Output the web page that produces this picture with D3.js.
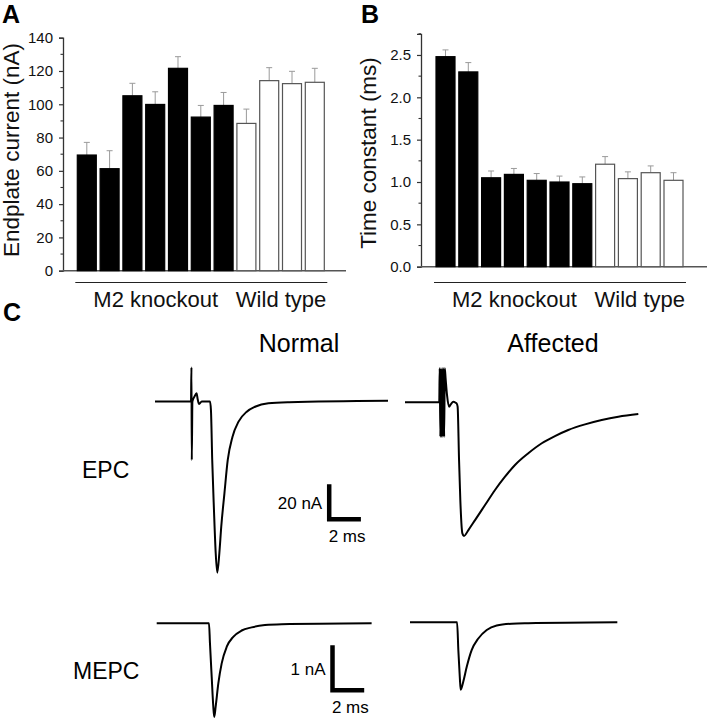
<!DOCTYPE html>
<html>
<head>
<meta charset="utf-8">
<script src="https://cdn.jsdelivr.net/npm/d3@7"></script>
<style>
  html, body { margin: 0; padding: 0; background: #fff; }
  svg { display: block; font-family: "Liberation Sans", Arial, sans-serif; }
</style>
</head>
<body>
<svg id="fig" width="708" height="719"></svg>
<script>
// ---------------- DATA ----------------
const categories = ["KO1","KO2","KO3","KO4","KO5","KO6","KO7","WT1","WT2","WT3","WT4"];
const genotype   = ["M2 knockout","M2 knockout","M2 knockout","M2 knockout","M2 knockout","M2 knockout","M2 knockout","Wild type","Wild type","Wild type","Wild type"];
const groupLabels = ["M2 knockout", "Wild type"];

// Panel A: endplate current (nA), mean and SEM
const currentMean = [69.5, 61.3, 105.1, 99.9, 121.6, 92.3, 99.3, 88.5, 114.2, 112.4, 113.2];
const currentErr  = [7.6, 10.8, 7.5, 7.6, 7.0, 7.0, 7.8, 8.6, 7.8, 7.4, 8.4];
const currentTicks = [0, 20, 40, 60, 80, 100, 120, 140];

// Panel B: time constant (ms), mean and SEM
const tauMean = [2.48, 2.30, 1.05, 1.09, 1.02, 1.00, 0.98, 1.21, 1.04, 1.11, 1.02];
const tauErr  = [0.08, 0.11, 0.08, 0.07, 0.08, 0.07, 0.08, 0.09, 0.08, 0.08, 0.09];
const tauTicks = [0.0, 0.5, 1.0, 1.5, 2.0, 2.5];

// Panel C traces: [time (ms), current (nA)]
const epcNormal = [
  [0,0],[2.27,0],[2.30,19.5],[2.32,-33.4],[2.36,0],[2.50,3.0],[2.62,4.7],[2.70,1.0],[2.78,-1.4],
  [2.95,0],[3.47,0],[3.53,-4.9],[3.61,-33.4],[3.72,-62],[3.83,-86.6],[3.93,-97.8],
  [4.06,-86.6],[4.18,-71.5],[4.38,-52.5],[4.59,-33.4],[4.89,-20.1],[5.27,-11.5],
  [5.79,-5.8],[6.31,-3.0],[7.15,-1.0],[8.46,-0.4],[14.7,0.4]
];
const epcAffected = [
  [0,0],[2.16,0],[2.19,19.4],[2.23,-19.7],[2.27,19.4],[2.31,-19.7],[2.35,19.4],[2.39,-19.7],
  [2.43,19.4],[2.47,-19.7],[2.51,19.4],[2.56,13.9],[2.65,4.2],[2.78,-2.5],[2.90,-1.0],
  [3.05,0.3],[3.20,-0.3],[3.26,-0.7],[3.32,-2.5],[3.41,-33],[3.49,-55.8],[3.62,-74.9],[3.72,-76.4],
  [4.00,-73],[4.42,-67.3],[5.05,-58.7],[5.68,-50.1],[6.31,-42.5],[6.94,-35.8],[7.78,-29.1],
  [8.63,-23.4],[9.46,-19.3],[10.3,-15.8],[11.36,-12.6],[12.41,-10.1],[13.46,-8.2],[14.72,-6.7]
];
const mepcNormal = [
  [0,0],[3.30,0],[3.36,-0.44],[3.47,-1.19],[3.57,-1.85],[3.63,-2.08],[3.72,-1.85],[3.89,-1.33],
  [4.10,-0.89],[4.42,-0.52],[4.83,-0.30],[5.36,-0.16],[5.99,-0.09],[6.83,-0.04],[7.89,-0.02],[13.56,0]
];
const mepcAffected = [
  [0,0],[2.97,0],[3.05,-0.62],[3.14,-1.21],[3.20,-1.50],[3.36,-1.32],[3.58,-0.99],[3.89,-0.62],
  [4.31,-0.36],[4.84,-0.17],[5.47,-0.07],[6.42,-0.03],[7.46,-0.02],[13.08,0]
];
const scaleBarEPC  = { amp: 20, ms: 2, ampLabel: "20 nA", msLabel: "2 ms" };
const scaleBarMEPC = { amp: 1,  ms: 2, ampLabel: "1 nA",  msLabel: "2 ms" };

// ---------------- DRAW ----------------
const svg = d3.select("#fig");
const BAR_DARK = "#000";
const ERR_COL = "#9a9a9a";
const AXIS_COL = "#333";

function barPanel(opt) {
  const g = svg.append("g");
  const x = d3.scaleBand().domain(categories).range(opt.xRange).paddingInner(0.1667).paddingOuter(0);
  const y = d3.scaleLinear().domain(opt.yDomain).range(opt.yRange);

  const yAxis = d3.axisLeft(y).tickValues(opt.ticks).tickFormat(opt.fmt).tickSize(4).tickPadding(6);
  const ga = g.append("g").attr("transform", `translate(${opt.axisX},0)`).call(yAxis);
  ga.select(".domain").attr("stroke", AXIS_COL).attr("stroke-width", 1.3);
  ga.selectAll(".tick line").attr("stroke", AXIS_COL).attr("stroke-width", 1.2);
  ga.selectAll(".tick text").attr("font-size", 15).attr("fill", "#111")
    .attr("font-family", "Liberation Sans, Arial, sans-serif");
  ga.selectAll(".minor").data(opt.minor).join("line").attr("class", "minor")
    .attr("x1", -2.5).attr("x2", 0).attr("y1", d => y(d)).attr("y2", d => y(d))
    .attr("stroke", AXIS_COL).attr("stroke-width", 1.1);

  g.append("line").attr("x1", opt.axisX).attr("x2", opt.xEnd)
    .attr("y1", y(0)).attr("y2", y(0)).attr("stroke", "#555").attr("stroke-width", 1.6);

  const eg = g.append("g");
  categories.forEach((c, i) => {
    const cx = x(c) + x.bandwidth() / 2;
    eg.append("line").attr("x1", cx).attr("x2", cx)
      .attr("y1", y(opt.mean[i])).attr("y2", y(opt.mean[i] + opt.err[i]))
      .attr("stroke", ERR_COL).attr("stroke-width", 1);
    eg.append("line").attr("x1", cx - 3).attr("x2", cx + 3)
      .attr("y1", y(opt.mean[i] + opt.err[i])).attr("y2", y(opt.mean[i] + opt.err[i]))
      .attr("stroke", ERR_COL).attr("stroke-width", 1);
  });

  g.append("g").selectAll("rect").data(categories).join("rect")
    .attr("x", c => x(c)).attr("width", x.bandwidth())
    .attr("y", (c, i) => y(opt.mean[i]))
    .attr("height", (c, i) => y(0) - y(opt.mean[i]))
    .attr("fill", (c, i) => genotype[i] === "Wild type" ? "#fff" : BAR_DARK)
    .attr("stroke", (c, i) => genotype[i] === "Wild type" ? "#555" : BAR_DARK)
    .attr("stroke-width", 1.2);

  groupLabels.forEach(gl => {
    const members = categories.filter((c, i) => genotype[i] === gl);
    const x0 = x(members[0]) - 2;
    const x1 = x(members[members.length - 1]) + x.bandwidth() + 3;
    g.append("line").attr("x1", x0).attr("x2", x1).attr("y1", opt.groupLineY).attr("y2", opt.groupLineY)
      .attr("stroke", "#222").attr("stroke-width", 1.1);
    g.append("text").attr("x", (x0 + x1) / 2).attr("y", opt.groupLineY + 24)
      .attr("text-anchor", "middle").attr("font-size", 22).attr("fill", "#111").text(gl);
  });

  g.append("text").attr("transform", `translate(${opt.titleX},${opt.titleY}) rotate(-90)`)
    .attr("text-anchor", "middle").attr("font-size", 22.5).attr("fill", "#111").text(opt.title);

  g.append("text").attr("x", opt.letterX).attr("y", 23).attr("font-size", 25)
    .attr("font-weight", "bold").attr("fill", "#000").text(opt.letter);
}

barPanel({
  xRange: [77.3, 324.3], yDomain: [0, 140], yRange: [270.7, 37.7], axisX: 63, xEnd: 346,
  ticks: currentTicks, fmt: d3.format("d"), minor: [10, 30, 50, 70, 90, 110, 130],
  mean: currentMean, err: currentErr, groupLineY: 282.5,
  title: "Endplate current (nA)", titleX: 19, titleY: 150, letter: "A", letterX: 2
});
barPanel({
  xRange: [436, 683], yDomain: [0, 2.75], yRange: [266.7, 33.8], axisX: 421, xEnd: 707,
  ticks: tauTicks, fmt: d3.format(".1f"), minor: [0.25, 0.75, 1.25, 1.75, 2.25, 2.75],
  mean: tauMean, err: tauErr, groupLineY: 282.5,
  title: "Time constant (ms)", titleX: 376, titleY: 153, letter: "B", letterX: 361
});

// ---------- Panel C ----------
function trace(data, x0, y0, pxPerMs, pxPerUnit, width) {
  const x = d3.scaleLinear().domain([0, 1]).range([x0, x0 + pxPerMs]);
  const y = d3.scaleLinear().domain([0, -1]).range([y0, y0 + pxPerUnit]);
  const line = d3.line().x(d => x(d[0])).y(d => y(d[1])).curve(d3.curveMonotoneX);
  svg.append("path").attr("d", line(data)).attr("fill", "none")
    .attr("stroke", "#000").attr("stroke-width", width).attr("stroke-linejoin", "round");
}
function scaleBar(sb, cornerX, cornerY, pxPerMs, pxPerUnit) {
  const x = d3.scaleLinear().domain([0, 1]).range([cornerX, cornerX + pxPerMs]);
  const y = d3.scaleLinear().domain([0, 1]).range([cornerY, cornerY - pxPerUnit]);
  svg.append("path")
    .attr("d", `M${x(0)},${y(sb.amp)} V${y(0)} H${x(sb.ms)}`)
    .attr("fill", "none").attr("stroke", "#000").attr("stroke-width", 4.5)
    .attr("stroke-linejoin", "miter").attr("stroke-linecap", "butt");
  svg.append("text").attr("x", x(0) - 7).attr("y", (y(0) + y(sb.amp)) / 2 + 7)
    .attr("text-anchor", "end").attr("font-size", 17).text(sb.ampLabel);
  svg.append("text").attr("x", (x(0) + x(sb.ms)) / 2 + 2).attr("y", y(0) + 23)
    .attr("text-anchor", "middle").attr("font-size", 17).text(sb.msLabel);
}

const PX_MS = 15.85, PX_NA_EPC = 1.75, PX_NA_MEPC = 45;
trace(epcNormal, 155, 401.5, PX_MS, PX_NA_EPC, 2);
trace(epcAffected, 405, 402.3, PX_MS, PX_NA_EPC, 2);
trace(mepcNormal, 156.7, 623.3, PX_MS, PX_NA_MEPC, 2);
trace(mepcAffected, 410, 622.3, PX_MS, PX_NA_MEPC, 2);
scaleBar(scaleBarEPC, 329.2, 519.2, PX_MS, PX_NA_EPC);
scaleBar(scaleBarMEPC, 332.5, 690.3, PX_MS, PX_NA_MEPC);

svg.append("text").attr("x", 3).attr("y", 321).attr("font-size", 25).attr("font-weight", "bold").text("C");
svg.append("text").attr("x", 299).attr("y", 352).attr("text-anchor", "middle").attr("font-size", 25).text("Normal");
svg.append("text").attr("x", 553).attr("y", 352).attr("text-anchor", "middle").attr("font-size", 25).text("Affected");
svg.append("text").attr("x", 82).attr("y", 478).attr("font-size", 23).text("EPC");
svg.append("text").attr("x", 73).attr("y", 679).attr("font-size", 23).text("MEPC");
</script>
</body>
</html>
